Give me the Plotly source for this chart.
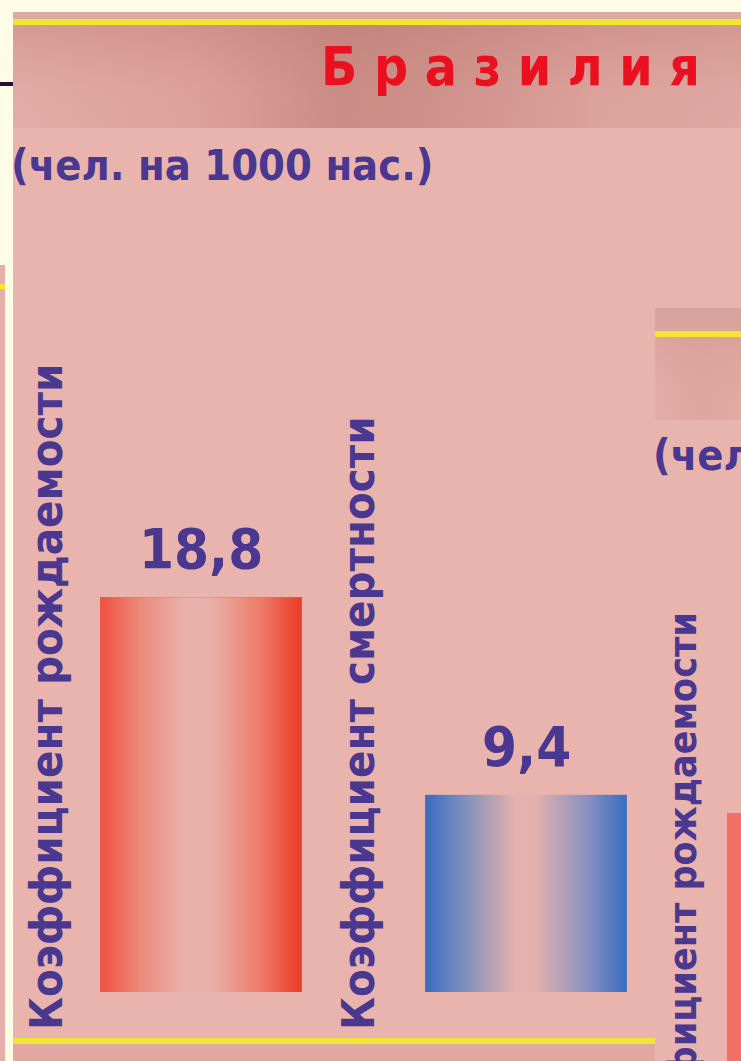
import base64
import plotly.graph_objects as go

# ---- data ----
categories = ["Коэффициент рождаемости", "Коэффициент смертности"]
values = [18.8, 9.4]
value_labels = ["18,8", "9,4"]
title_text = "Б р а з и л и я"
subtitle_text = "(чел. на 1000 нас.)"
side_subtitle = "(чел"
side_label = "Коэффициент рождаемости"

W, H = 741, 1061
FONT = "Liberation Sans Narrow, DejaVu Sans Condensed, Roboto Condensed, Arial Narrow, sans-serif"
PURPLE = "#4A3790"
RED_TXT = "#EA1020"


def px(x):
    return x / W


def py(y):
    return 1 - y / H


def svg_uri(stops, vertical=False, overlay=None):
    x2, y2 = ("0", "1") if vertical else ("1", "0")
    st = "".join(f'<stop offset="{o}" stop-color="{c}"/>' for o, c in stops)
    extra = ""
    defs2 = ""
    if overlay:
        st2 = "".join(f'<stop offset="{o}" stop-color="{c}" stop-opacity="{a}"/>' for o, c, a in overlay)
        defs2 = f'<linearGradient id="h" x1="0" y1="0" x2="0" y2="1">{st2}</linearGradient>'
        extra = '<rect width="100" height="100" fill="url(#h)"/>'
    svg = (f'<svg xmlns="http://www.w3.org/2000/svg" width="100" height="100" preserveAspectRatio="none" viewBox="0 0 100 100">'
           f'<defs><linearGradient id="g" x1="0" y1="0" x2="{x2}" y2="{y2}">{st}</linearGradient>{defs2}</defs>'
           f'<rect width="100" height="100" fill="url(#g)"/>{extra}</svg>')
    return "data:image/svg+xml;base64," + base64.b64encode(svg.encode()).decode()


bar_grads = [
    [(0, "#EF5040"), (0.2, "#EC8A7C"), (0.42, "#E8B2AA"), (0.55, "#E8B0A8"), (0.8, "#EE7A68"), (1, "#EC3A26")],
    [(0, "#3A6CC2"), (0.2, "#8090BC"), (0.45, "#E6B2AC"), (0.55, "#E2B0AE"), (0.8, "#8A92C0"), (1, "#3A6CC2")],
]
bar_colors = ["#EE6A58", "#6A86C0"]

fig = go.Figure()
idx = list(range(len(categories)))
BW = 0.62
fig.add_trace(go.Bar(x=idx, y=values, width=BW, marker=dict(color=bar_colors, line=dict(width=0)),
                     hoverinfo="skip", showlegend=False))

# axis mapping: bar centers at px 201 and 526, zero at py 992, 21 px per unit
x0c, dx = 201, 325
scale, zero_py = 21.0, 992
xr = [(0 - x0c) / dx, (W - x0c) / dx]
yr = [-(H - zero_py) / scale, zero_py / scale]

images = []
for i, v in zip(idx, values):
    images.append(dict(source=svg_uri(bar_grads[i]), xref="x", yref="y", x=i - BW / 2, y=v,
                       sizex=BW, sizey=v, xanchor="left", yanchor="top", sizing="stretch", layer="above"))

# header band gradient
images.append(dict(source=svg_uri([(0, "#E4ACA6"), (0.25, "#DDA19B"), (0.45, "#CB8B85"), (0.6, "#D0928C"), (0.8, "#DCA29C"), (1, "#E0A8A2")],
                                  overlay=[(0, "#B87870", 0.35), (0.6, "#C08078", 0.05), (1, "#E0A8A2", 0.0)]),
                   xref="paper", yref="paper", x=px(13), y=py(25), sizex=px(741 - 13), sizey=(128 - 25) / H,
                   xanchor="left", yanchor="top", sizing="stretch", layer="above"))
# side fragment header band
images.append(dict(source=svg_uri([(0, "#E4ACA6"), (0.5, "#E0A6A0"), (1, "#E2A8A2")],
                                  overlay=[(0, "#C89088", 0.25), (1, "#E6AEA8", 0.0)]),
                   xref="paper", yref="paper", x=px(655), y=py(337), sizex=px(W - 655), sizey=(420 - 337) / H,
                   xanchor="left", yanchor="top", sizing="stretch", layer="above"))


def rect(x0, y0, x1, y1, color, layer="below"):
    return dict(type="rect", xref="paper", yref="paper", x0=px(x0), x1=px(x1), y0=py(y1), y1=py(y0),
                fillcolor=color, line=dict(width=0), layer=layer)


shapes = [
    rect(13, 12, W, H, "#E9B4AE"),
    rect(13, 12, W, 19, "#DDAAA2"),
    rect(13, 19, W, 25, "#F3E632"),
    rect(0, 82, 13, 86, "#2C0E3E"),
    rect(0, 265, 5, H, "#E6AEA8"),
    rect(0, 284, 5, 289, "#F3E632"),
    rect(13, 1038, 655, 1044, "#F3E632"),
    rect(13, 1044, 655, H, "#E0A8A0"),
    rect(655, 308, W, 331, "#D9A49E"),
    rect(655, 331, W, 337, "#F3E632"),
    rect(727, 813, W, H, "#F07066", layer="above"),
]

LBL = 45
annotations = [
    dict(text=title_text, xref="paper", yref="paper", x=px(702), y=py(67), xanchor="right", yanchor="middle",
         showarrow=False, font=dict(family=FONT, size=53, color=RED_TXT, weight="bold")),
    dict(text=subtitle_text, xref="paper", yref="paper", x=px(9), y=py(165), xanchor="left", yanchor="middle",
         showarrow=False, font=dict(family=FONT, size=43, color=PURPLE, weight="bold")),
    dict(text=side_subtitle, xref="paper", yref="paper", x=px(651), y=py(455), xanchor="left", yanchor="middle",
         showarrow=False, font=dict(family=FONT, size=43, color=PURPLE, weight="bold")),
    dict(text=side_label, xref="paper", yref="paper", x=px(682), y=py(1192), xanchor="center", yanchor="bottom",
         textangle=-90, showarrow=False, font=dict(family=FONT, size=39, color=PURPLE, weight="bold")),
]
label_x = [46, 358]
for i, (c, lx) in enumerate(zip(categories, label_x)):
    annotations.append(dict(text=c, xref="paper", yref="paper", x=px(lx), y=py(1032), xanchor="center",
                            yanchor="bottom", textangle=-90, showarrow=False,
                            font=dict(family=FONT, size=LBL, color=PURPLE, weight="bold")))
for i, (v, t) in enumerate(zip(values, value_labels)):
    annotations.append(dict(text=t, x=i, y=v, xref="x", yref="y", xanchor="center", yanchor="bottom",
                            yshift=14, showarrow=False, font=dict(family=FONT, size=56, color=PURPLE, weight="bold")))

fig.update_layout(
    width=W, height=H, margin=dict(l=0, r=0, t=0, b=0, pad=0),
    paper_bgcolor="#FEFCE4", plot_bgcolor="rgba(0,0,0,0)",
    xaxis=dict(range=xr, visible=False, fixedrange=True),
    yaxis=dict(range=yr, visible=False, fixedrange=True),
    shapes=shapes, images=images, annotations=annotations,
    separators=", ", bargap=0,
)
fig.write_html("out.html", config={"displayModeBar": False},
               post_script="document.body.style.margin='0';document.body.style.overflow='hidden';")
